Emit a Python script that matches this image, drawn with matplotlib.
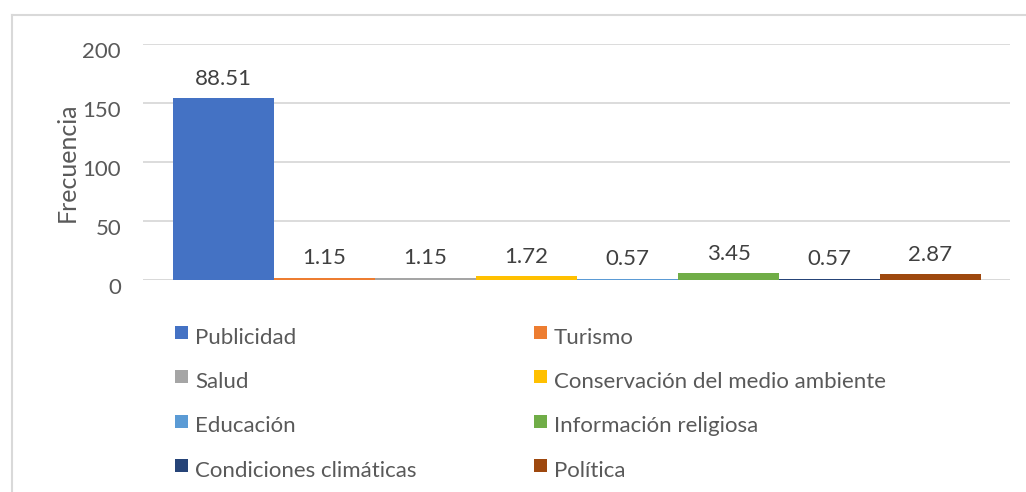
import matplotlib
matplotlib.use("Agg")
import matplotlib.pyplot as plt
from matplotlib.patches import Rectangle
from matplotlib.transforms import ScaledTranslation

categories = ["Publicidad", "Turismo", "Salud", "Conservación del medio ambiente",
              "Educación", "Información religiosa", "Condiciones climáticas", "Política"]
frequencies = [154, 2, 2, 3, 1, 6, 1, 5]
percent_labels = ["88.51", "1.15", "1.15", "1.72", "0.57", "3.45", "0.57", "2.87"]
colors = ["#4472C4", "#ED7D31", "#A5A5A5", "#FFC000",
          "#5B9BD5", "#70AD47", "#264478", "#9E480E"]
yticks = [0, 50, 100, 150, 200]

plt.rcParams['font.family'] = ['Lato', 'DejaVu Sans']

W, H = 1026, 492
fig = plt.figure(figsize=(W / 100, H / 100), dpi=100)
fig.patch.set_facecolor("white")

# outer chart border (left and top visible)
fig.add_artist(plt.Line2D([11.5 / W, 11.5 / W], [0, 1 - 14.5 / H], color="#D9D9D9", lw=1.5,
                          transform=fig.transFigure))
fig.add_artist(plt.Line2D([11.5 / W, 1], [1 - 14.5 / H, 1 - 14.5 / H], color="#D9D9D9", lw=1.5,
                          transform=fig.transFigure))

left, right = 143 / W, 1010 / W
bottom, top = 1 - 280 / H, 1 - 44 / H
ax = fig.add_axes([left, bottom, right - left, top - bottom])

x = list(range(len(categories)))
ax.bar(x, frequencies, width=1.0, color=colors, zorder=3)
ax.set_xlim(-0.5 - 30 / 101, 7.5 + 29 / 101)
ax.set_ylim(0, 200)
ax.set_yticks(yticks)
ax.set_xticks([])
ax.grid(axis="y", color="#D9D9D9", lw=1.3, zorder=0)
for s in ax.spines.values():
    s.set_visible(False)
ax.axhline(0, color="#D9D9D9", lw=1.3, zorder=2)
ax.tick_params(axis="y", length=0, pad=15.8, labelsize=16, labelcolor="#595959")
for lab in ax.get_yticklabels():
    lab.set_transform(lab.get_transform() + ScaledTranslation(0, -6 / 100, fig.dpi_scale_trans))

ylab = ax.set_ylabel("Frecuencia", fontsize=18, color="#595959")
ylab.set_va("center")
ax.yaxis.set_label_coords((67 - 143) / 867, 0.5)

for xi, f, lab in zip(x, frequencies, percent_labels):
    ax.annotate(lab, (xi, f), xytext=(0, 9.6), textcoords="offset points",
                ha="center", va="baseline", fontsize=16, color="#404040")

# legend (2 columns x 4 rows)
col_marker_x = [175, 534]
row_baseline = [343.5, 388, 432.5, 477]
msize = 13
for i, (cat, col) in enumerate(zip(categories, colors)):
    c, r = i % 2, i // 2
    mx = col_marker_x[c]
    base = row_baseline[r]
    fig.add_artist(Rectangle((mx / W, 1 - (base - 5) / H), msize / W, msize / H,
                             transform=fig.transFigure, color=col, lw=0))
    fig.text((mx + 20) / W, 1 - base / H, cat, fontsize=16, color="#595959",
             ha="left", va="baseline")

fig.savefig("out.png", dpi=100, facecolor="white")
